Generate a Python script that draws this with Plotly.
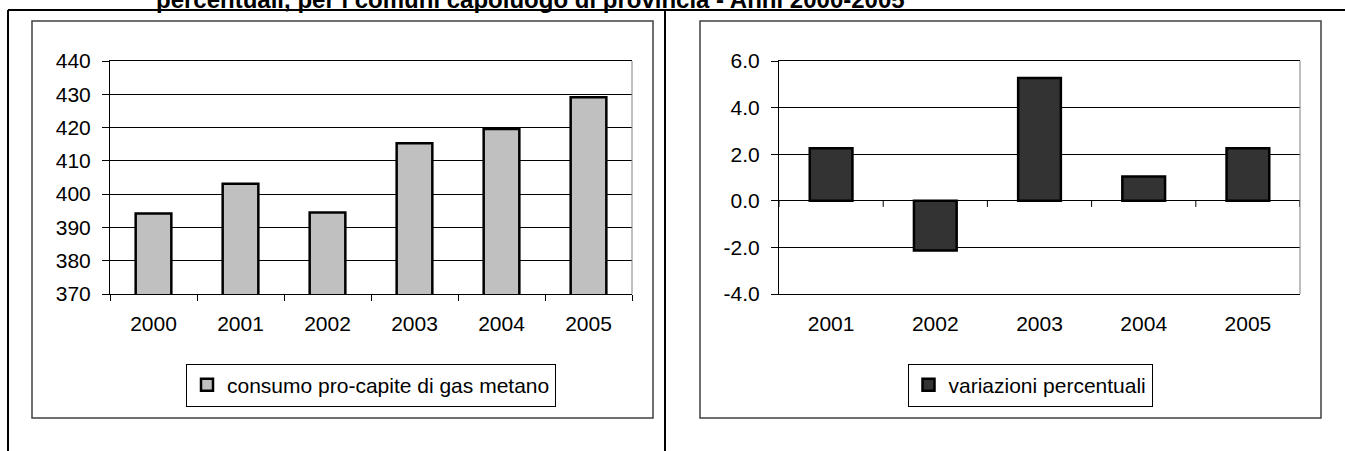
import plotly.graph_objects as go

# ---- data ----
years_left = ["2000", "2001", "2002", "2003", "2004", "2005"]
consumo = [394.2, 403.1, 394.5, 415.3, 419.6, 429.1]

years_right = ["2001", "2002", "2003", "2004", "2005"]
variazioni = [2.26, -2.13, 5.27, 1.04, 2.26]

right_tickvals = [-4, -2, 0, 2, 4, 6]
right_ticktext = ["-4.0", "-2.0", "0.0", "2.0", "4.0", "6.0"]

title_text = "percentuali, per i comuni capoluogo di provincia - Anni 2000-2005"
name_left = "consumo pro-capite di gas metano"
name_right = "variazioni percentuali"

W, H = 1345, 451
FONT = "Arial, Liberation Sans, sans-serif"


def fx(x):
    return x / W


def fy(y):
    return 1 - y / H


fig = go.Figure()

fig.add_trace(go.Bar(
    x=years_left, y=consumo, name=name_left,
    marker=dict(color="#C0C0C0", line=dict(color="black", width=2.5)),
    width=0.41, xaxis="x", yaxis="y", legend="legend",
    showlegend=True,
))
fig.add_trace(go.Bar(
    x=years_right, y=variazioni, name=name_right,
    marker=dict(color="#333333", line=dict(color="black", width=2.5)),
    width=0.41, xaxis="x2", yaxis="y2", legend="legend2",
    showlegend=True,
))

tickfont = dict(family=FONT, size=21, color="black")

common_x = dict(
    type="category", tickson="boundaries", ticks="outside", ticklen=6,
    tickcolor="black", showline=True, linecolor="black", linewidth=1,
    mirror=True, showgrid=False, tickfont=tickfont, ticklabelstandoff=11,
    fixedrange=True,
)
common_y = dict(
    ticks="outside", ticklen=7, tickcolor="black", showline=True,
    linecolor="black", linewidth=1, showgrid=True, gridcolor="black",
    gridwidth=1, tickfont=tickfont, ticklabelstandoff=7, fixedrange=True,
)

fig.update_layout(
    width=W, height=H,
    margin=dict(l=0, r=0, t=0, b=0, autoexpand=False),
    paper_bgcolor="white", plot_bgcolor="white",
    font=dict(family=FONT, size=21, color="black"),
    bargap=0.59,
    xaxis=dict(domain=[fx(110), fx(632)], anchor="y",
               range=[-0.5, len(years_left) - 0.5], **common_x),
    yaxis=dict(domain=[fy(294), fy(61)], anchor="x", range=[370, 440],
               dtick=10, zeroline=False, **common_y),
    xaxis2=dict(domain=[fx(779), fx(1300)], anchor="y2",
                range=[-0.5, len(years_right) - 0.5],
                **{**common_x, "tickcolor": "rgba(0,0,0,0)"}),
    yaxis2=dict(domain=[fy(294), fy(61)], anchor="x2", range=[-4, 6],
                tickvals=right_tickvals, ticktext=right_ticktext,
                zeroline=True, zerolinecolor="black", zerolinewidth=1,
                **common_y),
    legend=dict(
        x=fx(371), y=fy(385), xanchor="center", yanchor="middle",
        bgcolor="white", bordercolor="black", borderwidth=1,
        font=dict(family=FONT, size=21, color="black"),
        itemwidth=30, orientation="h", itemclick=False,
    ),
    legend2=dict(
        x=fx(1030), y=fy(385), xanchor="center", yanchor="middle",
        bgcolor="white", bordercolor="black", borderwidth=1,
        font=dict(family=FONT, size=21, color="black"),
        itemwidth=30, orientation="h", itemclick=False,
    ),
    showlegend=True,
)

shapes = []
# outer document frame
for (x0, y0, x1, y1) in [(8, 10, 1345, 10), (8, 10, 8, 451), (665, 10, 665, 451)]:
    shapes.append(dict(type="line", xref="paper", yref="paper",
                       x0=fx(x0), y0=fy(y0), x1=fx(x1), y1=fy(y1),
                       line=dict(color="black", width=2)))
# chart area boxes
for (x0, y0, x1, y1) in [(32, 21, 653, 418), (700, 21, 1321, 418)]:
    shapes.append(dict(type="rect", xref="paper", yref="paper",
                       x0=fx(x0), y0=fy(y1), x1=fx(x1), y1=fy(y0),
                       line=dict(color="#404040", width=1.5), layer="below"))
# gray right border of plot areas
for xa, ya in [("x", "y"), ("x2", "y2")]:
    shapes.append(dict(type="line", xref=f"{xa} domain", yref=f"{ya} domain",
                       x0=1, x1=1, y0=0, y1=1,
                       line=dict(color="#808080", width=1)))
# tick marks on the zero line of right chart at category boundaries
for k in range(len(years_right) + 1):
    shapes.append(dict(type="line", xref="x2", yref="y2",
                       x0=k - 0.5, x1=k - 0.5, y0=0, y1=-0.26,
                       line=dict(color="black", width=1)))
fig.update_layout(shapes=shapes)

fig.add_annotation(
    text="<b>" + title_text + "</b>", xref="paper", yref="paper",
    x=fx(154), y=fy(-1), xanchor="left", yanchor="middle",
    showarrow=False, font=dict(family=FONT, size=24, color="black"),
)

fig.write_html("out.html")
